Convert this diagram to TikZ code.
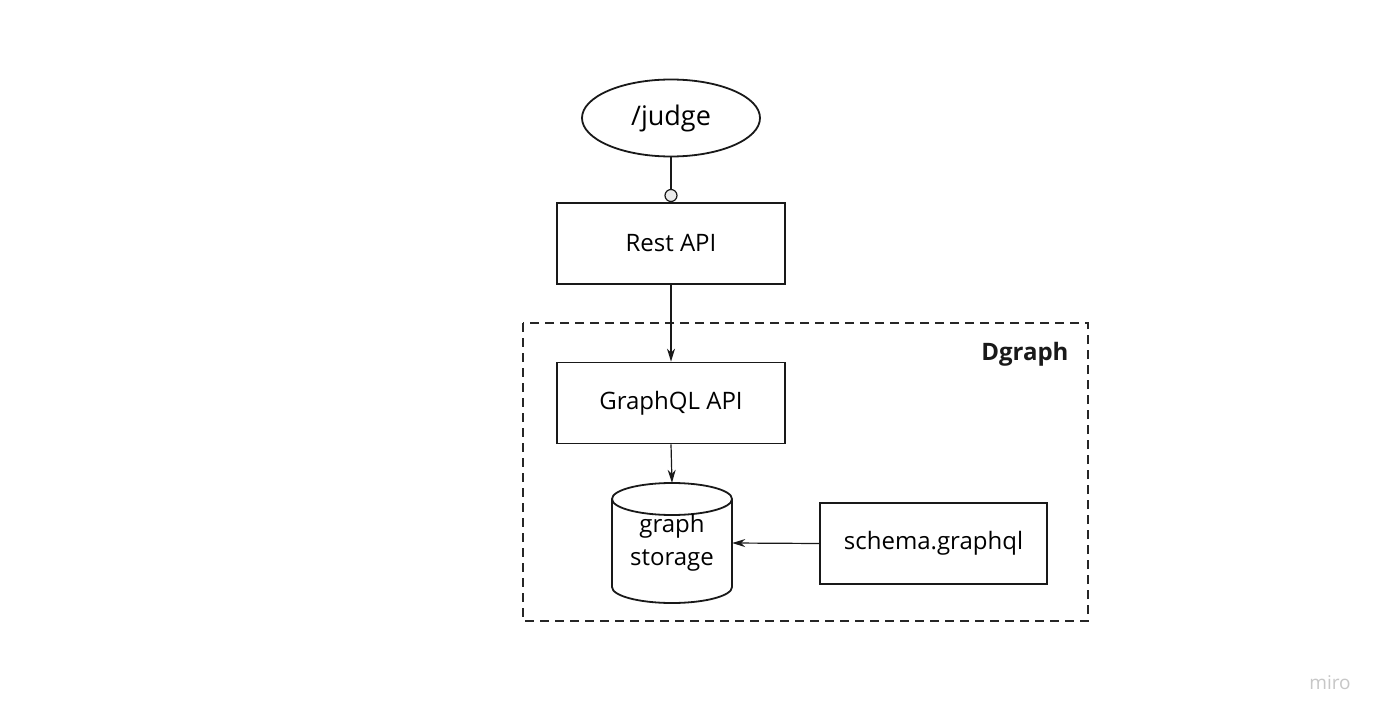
\documentclass[tikz,border=0pt]{standalone}
\usepackage{fontspec}
\setmainfont{Open Sans}
\usetikzlibrary{shapes.geometric,arrows.meta}
\begin{document}
\begin{tikzpicture}[x=1pt,y=-1pt,
  box/.style={draw=black!90,line width=1.8pt,rectangle,minimum width=228pt,minimum height=81pt,inner sep=0pt,font=\fontsize{24}{30}\selectfont},
  conn/.style={line width=1.2pt,draw=black!90},
  arr/.style={conn,-{Stealth[length=13pt,width=8pt]}}]
\useasboundingbox (0,0) rectangle (1384,722);
\fill[white] (0,0) rectangle (1384,722);
% dashed container
\draw[line width=1.8pt,draw=black!85,dash pattern=on 9pt off 6pt] (523,323) rectangle (1088,621);
\node[anchor=east,font=\bfseries\fontsize{24}{30}\selectfont,text=black!90] (dg) at (1072,354) {Dgraph};
% nodes
\node[ellipse,draw=black!90,line width=1.8pt,minimum width=178pt,minimum height=77pt,inner sep=0pt,font=\fontsize{27}{32}\selectfont] (judge) at (671,118) {/judge};
\node[box] (rest) at (671,243.5) {Rest API};
\node[box] (gql) at (671,403) {GraphQL API};
\node[box,minimum width=227pt] (schema) at (933.5,543.5) {schema.graphql};
% cylinder
\draw[line width=1.8pt,draw=black!90,fill=white] (612,499) -- (612,587) arc[start angle=180,end angle=0,x radius=60,y radius=16] -- (732,499);
\draw[line width=1.8pt,draw=black!90] (672,499) ellipse[x radius=60,y radius=16];
\node[rectangle,minimum width=120pt,minimum height=120pt,inner sep=0pt,align=center,font=\fontsize{24}{33}\selectfont] (store) at (672,543) {graph\\storage};
% connectors
\node[circle,draw=black!90,fill=black!8,line width=1.2pt,minimum size=12pt,inner sep=0pt,anchor=south] (dot) at (rest.north) {};
\draw[conn] (judge.south) -- (dot.north);
\draw[arr] (rest.south) -- (gql.north);
\draw[arr] (gql.south) -- (store.north);
\draw[arr] (schema.west) -- (store.east);
\node[text=black!22,font=\fontsize{19}{20}\selectfont] (miro) at (1330,683) {miro};
\end{tikzpicture}
\end{document}
